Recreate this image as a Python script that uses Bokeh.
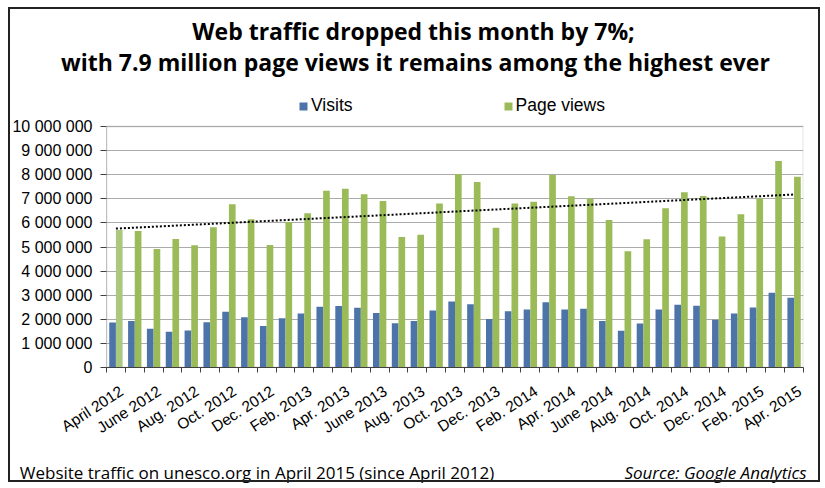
import numpy as np
from bokeh.plotting import figure
from bokeh.models import (Range1d, FixedTicker, Legend, LegendItem, LinearAxis,
                          BoxAnnotation, ColumnDataSource, InlineStyleSheet)
from bokeh.transform import dodge
from bokeh.core.properties import value
from bokeh.embed import file_html
from bokeh.resources import INLINE

# ---------------- data ----------------
months = ["April 2012", "May 2012", "June 2012", "July 2012", "Aug. 2012", "Sep. 2012",
          "Oct. 2012", "Nov. 2012", "Dec. 2012", "Jan. 2013", "Feb. 2013", "Mar. 2013",
          "Apr. 2013", "May 2013", "June 2013", "July 2013", "Aug. 2013", "Sep. 2013",
          "Oct. 2013", "Nov. 2013", "Dec. 2013", "Jan. 2014", "Feb. 2014", "Mar. 2014",
          "Apr. 2014", "May 2014", "June 2014", "July 2014", "Aug. 2014", "Sep. 2014",
          "Oct. 2014", "Nov. 2014", "Dec. 2014", "Jan. 2015", "Feb. 2015", "Mar. 2015",
          "Apr. 2015"]
visits = [1870000, 1930000, 1610000, 1480000, 1540000, 1880000, 2310000, 2090000,
          1720000, 2040000, 2240000, 2520000, 2550000, 2480000, 2260000, 1840000,
          1930000, 2370000, 2740000, 2620000, 2010000, 2330000, 2410000, 2710000,
          2410000, 2440000, 1930000, 1520000, 1830000, 2410000, 2600000, 2560000,
          1980000, 2240000, 2490000, 3100000, 2890000]
page_views = [5710000, 5660000, 4920000, 5330000, 5070000, 5820000, 6770000, 6150000,
              5080000, 6040000, 6400000, 7330000, 7420000, 7190000, 6910000, 5420000,
              5510000, 6810000, 8030000, 7700000, 5800000, 6810000, 6880000, 7990000,
              7110000, 7010000, 6120000, 4820000, 5320000, 6610000, 7270000, 7120000,
              5440000, 6360000, 7010000, 8570000, 7920000]
y_ticks = [0, 1000000, 2000000, 3000000, 4000000, 5000000, 6000000, 7000000,
           8000000, 9000000, 10000000]
y_tick_labels = ["0", "1 000 000", "2 000 000", "3 000 000", "4 000 000", "5 000 000",
                 "6 000 000", "7 000 000", "8 000 000", "9 000 000", "10 000 000"]
series_names = ["Visits", "Page views"]
title_lines = ["Web traffic dropped this month by 7%;",
               "with 7.9 million page views it remains among the highest ever"]
note_left = "Website traffic on unesco.org in April 2015 (since April 2012)"
note_right = "Source: Google Analytics"

BLUE = "#4d74a8"
GREEN = "#9bbb59"
GREEN_FIRST = "#aac97f"

n = len(months)
idx = np.arange(1, n + 1)
green_colors = [GREEN_FIRST] + [GREEN] * (n - 1)
src = ColumnDataSource(dict(x=idx, visits=visits, pages=page_views, gcol=green_colors))

# layout (pixels)
W, H = 823, 487
F_LEFT, F_RIGHT, F_TOP, F_BOTTOM = 106, 803, 90, 367
AREA_TOP = 126          # where the 10 000 000 line sits
y_max = y_ticks[-1]
y_top = y_max * (F_BOTTOM - F_TOP) / (F_BOTTOM - AREA_TOP)   # room for the legend

p = figure(width=W, height=H, output_backend="svg", toolbar_location=None,
           x_range=Range1d(0.5, n + 0.5), y_range=Range1d(0, y_top),
           min_border_left=F_LEFT, min_border_right=W - F_RIGHT,
           min_border_top=F_TOP, min_border_bottom=H - F_BOTTOM)
p.title.visible = False
p.background_fill_color = "white"
p.border_fill_color = "white"
p.outline_line_color = None

# plot-area box and dark value-axis line
p.add_layout(BoxAnnotation(left=0.5, right=n + 0.5, bottom=0, top=y_max,
                           fill_alpha=0, line_color="#a6a6a6", line_width=2,
                           level="underlay"))
p.add_layout(BoxAnnotation(left=0.5, right=0.5, bottom=0, top=y_max,
                           fill_alpha=0, line_color="#404040", line_width=1))

bw = 0.355
r_v = p.vbar(x=dodge("x", -0.177), top="visits", width=bw, source=src,
             fill_color=BLUE, line_color=None)
r_p = p.vbar(x=dodge("x", 0.177), top="pages", width=bw, source=src,
             fill_color="gcol", line_color=None)

# linear trendline of page views
slope, intercept = np.polyfit(idx, page_views, 1)
trend_x = [idx[0], idx[-1]]
trend_y = [slope * idx[0] + intercept, slope * idx[-1] + intercept]
p.line(trend_x, trend_y, line_color="black", line_width=2, line_dash="2 2")

# y axis
p.xgrid.visible = False
p.ygrid.grid_line_color = "#ababab"
p.ygrid.grid_line_width = 1
ya = p.yaxis[0]
ya.ticker = FixedTicker(ticks=y_ticks)
ya.major_label_overrides = {t: l for t, l in zip(y_ticks, y_tick_labels)}
ya.major_label_text_font = "Liberation Sans"
ya.major_label_text_font_size = "16px"
ya.major_label_text_color = "black"
ya.major_label_standoff = 8
ya.major_tick_out = 6
ya.major_tick_in = 0
ya.minor_tick_line_color = None
ya.axis_line_color = None
ya.major_tick_line_color = "#404040"

# x axis (month labels every second category, ticks between categories)
xa = p.xaxis[0]
label_pos = [float(i) + 0.3 for i in idx[::2]]
xa.ticker = FixedTicker(ticks=label_pos,
                        minor_ticks=[float(i) + 0.5 for i in range(0, n + 1)])
xa.major_label_overrides = {pos: months[2 * k] for k, pos in enumerate(label_pos)}
xa.major_label_orientation = 0.576
xa.major_label_text_font = "Liberation Sans"
xa.major_label_text_font_size = "15.5px"
xa.major_label_text_color = "black"
xa.major_label_standoff = 17
xa.major_tick_out = 5
xa.major_tick_in = 0
xa.major_tick_line_color = None
xa.minor_tick_out = 5
xa.minor_tick_in = 0
xa.minor_tick_line_color = "#404040"
xa.axis_line_color = "#404040"

# series legend inside the (taller) frame, above the plot area
legend = Legend(items=[LegendItem(label=value(series_names[0]), renderers=[r_v], index=1),
                       LegendItem(label=value(series_names[1]), renderers=[r_p], index=1)],
                orientation="horizontal", location=(192, F_BOTTOM - 116),
                glyph_width=10, glyph_height=10, label_standoff=3, spacing=150,
                padding=0, margin=0, border_line_color=None,
                background_fill_alpha=0,
                label_text_font="Liberation Sans", label_text_font_size="17.5px",
                label_text_color="black")
p.add_layout(legend, "center")

# text rows (titles and notes) as bare axes positioned along the x scale
PX = (F_RIGHT - F_LEFT) / n


def at_px(abs_x):
    return 0.5 + (abs_x - F_LEFT) / PX


def text_row(text, pos, font, size, style, standoff):
    ax = LinearAxis(ticker=FixedTicker(ticks=[pos], minor_ticks=[]),
                    major_label_overrides={pos: text})
    ax.axis_line_color = None
    ax.major_tick_line_color = None
    ax.minor_tick_line_color = None
    ax.major_tick_out = 0
    ax.major_tick_in = 0
    ax.minor_tick_out = 0
    ax.minor_tick_in = 0
    ax.major_label_orientation = "horizontal"
    ax.major_label_standoff = standoff
    ax.major_label_text_font = font
    ax.major_label_text_font_size = size
    ax.major_label_text_font_style = style
    ax.major_label_text_color = "black"
    return ax


p.add_layout(text_row(title_lines[1], at_px(415), "Open Sans", "23px", "bold", 13), "above")
p.add_layout(text_row(title_lines[0], at_px(413), "Open Sans", "23px", "bold", -4), "above")
p.add_layout(text_row(note_left, at_px(18 + 477 / 2), "Open Sans", "17px", "normal", 14),
             "below")
p.add_layout(text_row(note_right, at_px(807 - 184 / 2), "Open Sans", "17px", "italic", -26),
             "below")

# outer frame of the whole chart
p.stylesheets = [InlineStyleSheet(css=(
    ":host::after { content: ''; position: absolute; left: 8px; top: 7px; "
    "width: 812px; height: 475px; border: 2px solid #222; box-sizing: border-box; "
    "pointer-events: none; }"))]

open("out.html", "w").write(file_html(p, INLINE))
